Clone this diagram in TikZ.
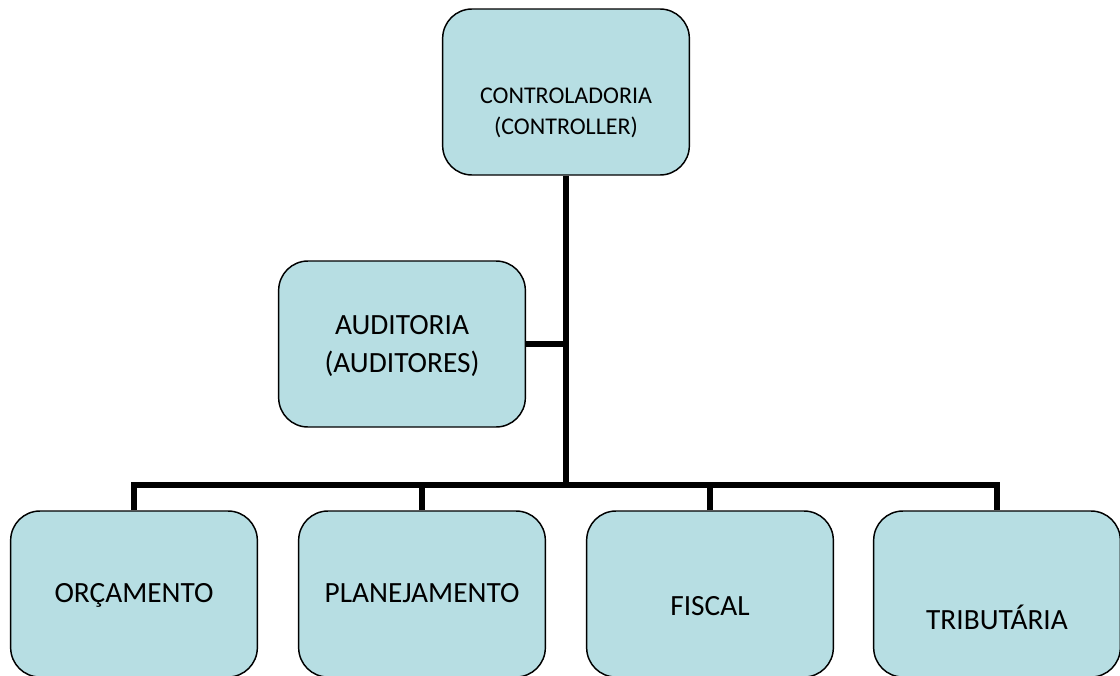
\documentclass[tikz,border=0pt]{standalone}
\usepackage{fontspec}
\setmainfont{Carlito}
\usepackage{tikz}
\definecolor{boxfill}{RGB}{183,222,227}
\tikzset{unitbox/.style={draw=black, line width=1.1pt, fill=boxfill, rounded corners=22pt,
    minimum width=185pt, minimum height=124.5pt, inner sep=0pt}}
\tikzset{boxtext/.style={align=center, font=\fontsize{22}{28.5}\selectfont}}
\tikzset{link/.style={line width=4.5pt, line join=miter}}

\begin{document}
\begin{tikzpicture}[x=0.75pt, y=-0.75pt]
            \useasboundingbox (0, 0) rectangle (1120, 675);
            \node[unitbox] (ctrl) at (566, 92) {};
            \node[boxtext, font=\fontsize{18}{23}\selectfont] (ctrltxt) at (566, 113) {CONTROLADORIA\\(CONTROLLER)};
            \node[unitbox] (aud) at (402, 344) {};
            \node[boxtext] (audtxt) at (402, 346) {AUDITORIA\\(AUDITORES)};
            \foreach \name/\x/\ty/\txt in {orc/134/595/ORÇAMENTO, plan/422/593/PLANEJAMENTO,
                    fisc/710/606/FISCAL, trib/997/617/TRIBUTÁRIA} {
                \node[unitbox] (\name) at (\x, 594) {};
                \node[boxtext] (\name txt) at (\x, \ty) {\txt};
            }
            \coordinate (bar) at (566, 485);
            \draw[link] (ctrl.south) -- (bar);
            \draw[link] (aud.east) -- (aud.east -| bar);
            \draw[link] (orc.north) -- (orc.north |- bar) -- (trib.north |- bar) -- (trib.north);
            \draw[link] (plan.north) -- (plan.north |- bar);
            \draw[link] (fisc.north) -- (fisc.north |- bar);
        \end{tikzpicture}
\end{document}
